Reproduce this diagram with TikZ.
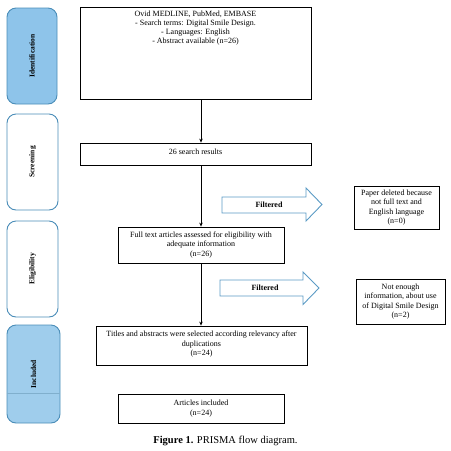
\documentclass[tikz,border=0pt]{standalone}
\usepackage{fontspec}
\setmainfont{Liberation Serif}
\usetikzlibrary{arrows.meta}
\definecolor{idblue}{HTML}{8EC4EA}
\definecolor{inclblue}{HTML}{9FCDEC}
\definecolor{stageblue}{HTML}{4A8DB8}
\definecolor{arrowblue}{HTML}{5B9BC5}
\begin{document}
\begin{tikzpicture}[x=1pt,y=-1pt,
  box/.style={draw=black, line width=0.8pt, fill=white, align=center,
    font=\fontsize{8}{9.4}\selectfont, inner sep=1pt},
  txt/.style={align=center, font=\fontsize{8}{9.2}\selectfont, inner sep=1pt},
  stage/.style={draw=stageblue, line width=0.9pt, rounded corners=9pt},
  stagelabel/.style={rotate=90, font=\fontsize{7.5}{9}\selectfont\bfseries, inner sep=0pt},
  flow/.style={-{Stealth[length=4pt,width=3.5pt]}, line width=0.8pt},
  filt/.style={draw=arrowblue, line width=0.9pt, fill=white, line join=miter},
  filtlabel/.style={font=\fontsize{8}{9}\selectfont\bfseries, inner sep=0pt},
]
\useasboundingbox (0,0) rectangle (451,451);

% stage boxes
\node[stage, fill=idblue, minimum width=50pt, minimum height=96pt] (sid) at (32,56) {};
\node[stagelabel] (lid) at (sid.center) {Identification};
\node[stage, fill=white, minimum width=51pt, minimum height=96pt] (sscr) at (32.5,162) {};
\node[stagelabel] (lscr) at (sscr.center) {Screening};
\node[stage, fill=white, minimum width=51pt, minimum height=96pt] (selig) at (32.5,269) {};
\node[stagelabel] (lelig) at (selig.center) {Eligibility};
\node[stage, fill=inclblue, minimum width=53pt, minimum height=98pt] (sincl) at (33.5,374) {};
\draw[stageblue!70, line width=0.5pt] (sincl.west |- 0,393) -- (sincl.east |- 0,393);
\node[stagelabel] (lincl) at (sincl.center) {Included};

% main boxes
\node[box, minimum width=231pt, minimum height=92pt] (top) at (195.5,53) {};
\node[txt, anchor=north] (toptext) at (195.5,9.5) {Ovid MEDLINE, PubMed, EMBASE\\- Search terms: Digital Smile Design.\\- Languages: English\\- Abstract available (n=26)};
\node[box, minimum width=231pt, minimum height=22pt] (screen) at (195.5,154) {26 search results\rule[-4pt]{0pt}{0pt}};
\node[box, minimum width=166pt, minimum height=36pt] (full) at (201,245) {Full text articles assessed for eligibility with\\adequate information\\(n=26)};
\node[box, minimum width=211pt, minimum height=39pt] (titles) at (201.5,345.5) {Titles and abstracts were selected according relevancy after\\duplications\\(n=24)\rule[-4pt]{0pt}{0pt}};
\node[box, minimum width=166pt, minimum height=29pt] (articles) at (201,408.5) {Articles included\\(n=24)};

% right boxes
\node[box, minimum width=85pt, minimum height=43pt] (r1) at (396.5,207.5) {Paper deleted because\\not full text and\\English language\\(n=0)};
\node[box, minimum width=89pt, minimum height=45pt] (r2) at (400.5,301.5) {Not enough\\information, about use\\of Digital Smile Design\\(n=2)};

% connectors
\draw[flow] (top.south -| full.north) -- (screen.north -| full.north);
\draw[flow] (screen.south -| full.north) -- (full.north);
\draw[flow] (full.south) -- (titles.north -| full.south);

% filtered arrows
\draw[filt] (222,197) -- (306,197) -- (306,188) -- (322,204.5) -- (306,221) -- (306,213) -- (222,213) -- cycle;
\node[filtlabel] (f1) at (269,205) {Filtered};
\draw[filt] (220,280) -- (303,280) -- (303,272) -- (319,288) -- (303,304.5) -- (303,296) -- (220,296) -- cycle;
\node[filtlabel] (f2) at (265,288) {Filtered};

% caption
\node[font=\fontsize{10.5}{12}\selectfont, inner sep=0pt] (cap) at (225.5,441) {\textbf{Figure 1.} PRISMA flow diagram.};
\end{tikzpicture}
\end{document}
